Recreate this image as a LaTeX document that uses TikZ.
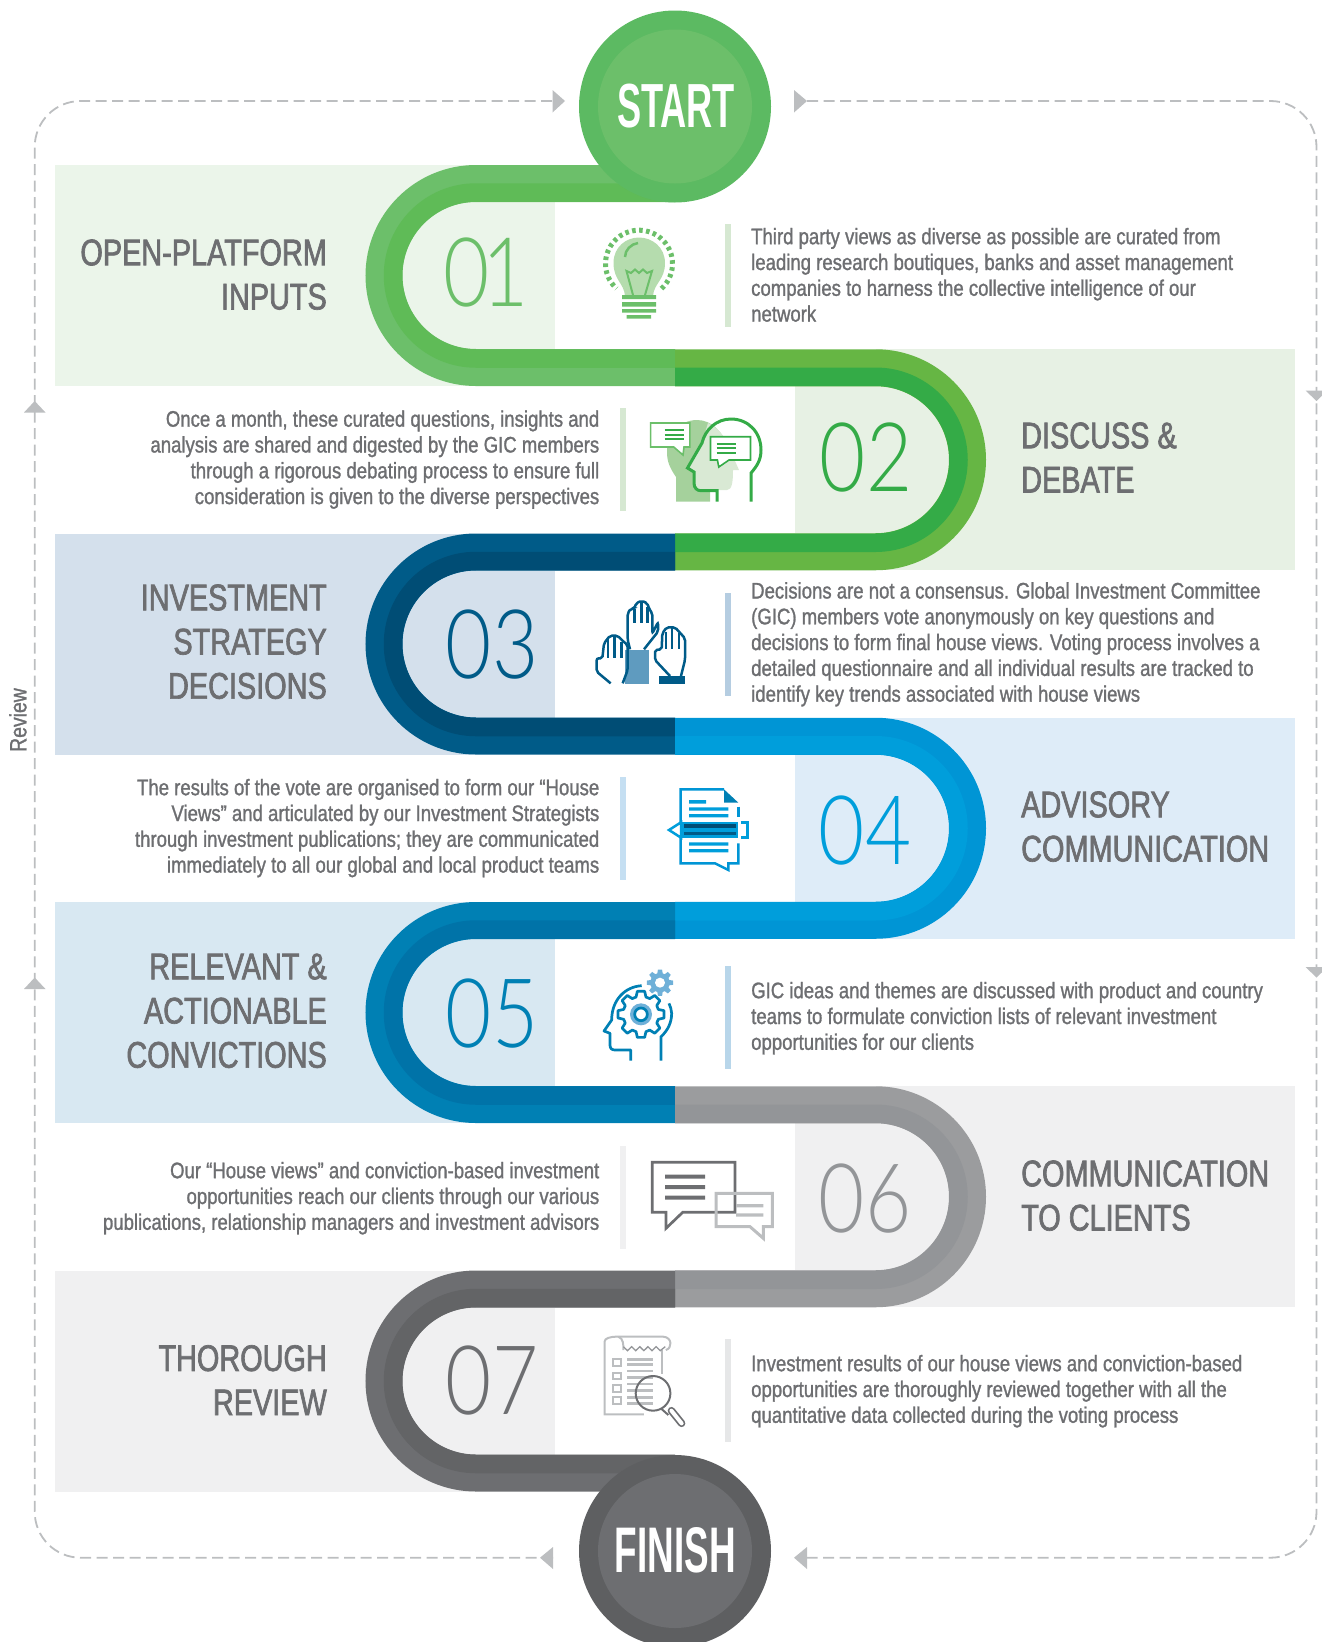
\documentclass[tikz,border=0pt]{standalone}
\usepackage{fontspec}
\usepackage{graphicx}
\setmainfont{Liberation Sans}
\newfontfamily\bodyf[FakeStretch=0.825,FakeBold=1.2]{Liberation Sans}
\newfontfamily\titlef[FakeStretch=0.78,FakeBold=1.8]{Liberation Sans}
\newfontfamily\thinf[FakeStretch=0.83]{Lato Light}
\newfontfamily\capf{Liberation Sans Bold}
\definecolor{txt}{HTML}{6D6E71}
\definecolor{dashc}{HTML}{BCBEC0}
\definecolor{gA}{HTML}{6CBF6A}\definecolor{gB}{HTML}{5FBB57}
\definecolor{gC}{HTML}{66B644}\definecolor{gD}{HTML}{34AB47}
\definecolor{bA}{HTML}{005B88}\definecolor{bB}{HTML}{004D75}
\definecolor{bC}{HTML}{0095D5}\definecolor{bD}{HTML}{009EDB}
\definecolor{bE}{HTML}{0080B4}\definecolor{bF}{HTML}{0073A8}
\definecolor{kA}{HTML}{9B9C9E}\definecolor{kB}{HTML}{939598}
\definecolor{kC}{HTML}{6D6E71}\definecolor{kD}{HTML}{636466}
\definecolor{pA}{HTML}{EBF5EA}\definecolor{pB}{HTML}{E7F1E4}\definecolor{pC}{HTML}{D4E0EC}
\definecolor{pD}{HTML}{DEECF8}\definecolor{pE}{HTML}{D8E8F2}\definecolor{pF}{HTML}{F0F0F1}
\definecolor{startC}{HTML}{5CBA62}\definecolor{finC}{HTML}{5E5F61}
\definecolor{barA}{HTML}{D6E8D2}\definecolor{barC}{HTML}{B5CDE1}\definecolor{barD}{HTML}{C5DFF2}
\definecolor{barE}{HTML}{B8D6EA}\definecolor{barG}{HTML}{E6E7E8}
\definecolor{bulbF}{HTML}{B5DCAE}\definecolor{headA}{HTML}{A5D19C}\definecolor{headB}{HTML}{D9E9D4}
\definecolor{sleeve}{HTML}{5F9BBF}\definecolor{gearL}{HTML}{6FB0D8}
\tikzset{
  bodyL/.style={inner sep=0pt,anchor=north west,align=left,text=txt,font=\bodyf\fontsize{22.5}{25.8}\selectfont},
  bodyR/.style={inner sep=0pt,anchor=north east,align=right,text=txt,font=\bodyf\fontsize{22.5}{25.8}\selectfont},
  titleL/.style={inner sep=0pt,anchor=north west,align=left,text=txt,font=\titlef\fontsize{37}{44.2}\selectfont},
  titleR/.style={inner sep=0pt,anchor=north east,align=right,text=txt,font=\titlef\fontsize{37}{44.2}\selectfont},
  numb/.style={inner sep=0pt,anchor=base,font=\thinf\fontsize{96}{96}\selectfont},
  dashline/.style={draw=dashc,line width=1.8pt,dash pattern=on 11pt off 5.5pt,rounded corners=46pt},
  tri/.style={fill=dashc,draw=none},
}
% #1 yc, #2 radius
\newcommand{\ribL}[2]{(675,#1-#2) -- (476,#1-#2) .. controls ({476-0.5523*#2},#1-#2) and ({476-#2},{#1-0.5523*#2}) .. ({476-#2},#1) .. controls ({476-#2},{#1+0.5523*#2}) and ({476-0.5523*#2},#1+#2) .. (476,#1+#2) -- (675,#1+#2)}
\newcommand{\ribR}[2]{(675,#1-#2) -- (875.5,#1-#2) .. controls ({875.5+0.5523*#2},#1-#2) and ({875.5+#2},{#1-0.5523*#2}) .. ({875.5+#2},#1) .. controls ({875.5+#2},{#1+0.5523*#2}) and ({875.5+0.5523*#2},#1+#2) .. (875.5,#1+#2) -- (675,#1+#2)}
% #1 yc, #2 panel colour, #3 outer, #4 inner
\newcommand{\rowL}[4]{%
  \fill[#2] (54.6,#1-110.5) rectangle (476,#1+110.5);
  \fill[#2] (476,#1-73.5) rectangle (555,#1+73.5);
  \draw[#3,line width=37pt] \ribL{#1}{92};
  \draw[#4,line width=18.5pt] \ribL{#1}{83};
}
\newcommand{\rowR}[4]{%
  \fill[#2] (875.5,#1-110.5) rectangle (1295,#1+110.5);
  \fill[#2] (795,#1-73.5) rectangle (875.5,#1+73.5);
  \draw[#3,line width=37pt] \ribR{#1}{92};
  \draw[#4,line width=18.5pt] \ribR{#1}{83};
}
\newcommand{\gearpath}[5]{({#1+#4*cos(-16)},{#2+#4*sin(-16)}) \foreach \k in {0,...,#5}{ -- ({#1+#3*cos(\k*360/(#5+1)-9)},{#2+#3*sin(\k*360/(#5+1)-9)}) -- ({#1+#3*cos(\k*360/(#5+1)+9)},{#2+#3*sin(\k*360/(#5+1)+9)}) -- ({#1+#4*cos(\k*360/(#5+1)+16)},{#2+#4*sin(\k*360/(#5+1)+16)}) -- ({#1+#4*cos((\k+1)*360/(#5+1)-16)},{#2+#4*sin((\k+1)*360/(#5+1)-16)})} -- cycle}
\begin{document}
\begin{tikzpicture}[x=1pt,y=-1pt]
\useasboundingbox (0,0) rectangle (1322,1642);
% dashed frame
\coordinate (dA) at (553,1557.7);
\coordinate (dB) at (34.7,1557.7);
\coordinate (dC) at (34.7,101);
\coordinate (dD) at (552.5,101);
\coordinate (dE) at (807,101);
\coordinate (dF) at (1316.5,101);
\coordinate (dG) at (1316.5,1557.7);
\coordinate (dH) at (806,1557.7);
\draw[dashline] (dA) -- (dB) -- (dC) -- (dD);
\draw[dashline] (dE) -- (dF) -- (dG) -- (dH);
\fill[tri] (552.5,90) -- (565,101) -- (552.5,112.5) -- cycle;
\fill[tri] (794,90) -- (807,101) -- (794,112.5) -- cycle;
\fill[tri] (553,1547) -- (540,1557.7) -- (553,1569) -- cycle;
\fill[tri] (807,1547) -- (794,1557.7) -- (807,1569) -- cycle;
\fill[tri] (24,412.5) -- (34.7,401) -- (45.5,412.5) -- cycle;
\fill[tri] (24,989) -- (34.7,977.5) -- (45.5,989) -- cycle;
\fill[tri] (1305.5,390.5) -- (1316.5,401) -- (1327.5,390.5) -- cycle;
\fill[tri] (1305.5,967) -- (1316.5,977.5) -- (1327.5,967) -- cycle;
\node[inner sep=0pt,rotate=90,text=txt,font=\bodyf\fontsize{23.5}{26}\selectfont] (review) at (18,720) {Review};
% rows
\rowL{275.5}{pA}{gA}{gB}
\rowR{459.75}{pB}{gC}{gD}
\rowL{644}{pC}{bA}{bB}
\rowR{828.25}{pD}{bC}{bD}
\rowL{1012.5}{pE}{bE}{bF}
\rowR{1196.75}{pF}{kA}{kB}
\rowL{1381}{pF}{kC}{kD}
% start / finish
\fill[startC] (675,106.5) circle (96);
\fill[gA] (675,106.5) circle (77);
\node[inner sep=0pt,text=white] (start) at (676,105.7) {\resizebox{118pt}{43.5pt}{\capf START}};
\fill[finC] (675,1551) circle (96);
\fill[kC] (675,1551) circle (77);
\node[inner sep=0pt,text=white] (finish) at (675.5,1550.5) {\resizebox{121pt}{45pt}{\capf FINISH}};
% bars
\fill[barA] (725,224) rectangle (731,327);
\fill[barA] (620,408) rectangle (626,511);
\fill[barC] (725,593) rectangle (731,696);
\fill[barD] (620,777) rectangle (626,880);
\fill[barE] (725,966) rectangle (731,1069);
\fill[pF] (620,1146) rectangle (626,1249);
\fill[barG] (725,1339) rectangle (731,1442);
% numbers
\node[numb,text=gA] (n1) at (486,306) {0\kern-8pt 1};
\node[numb,text=gD] (n2) at (866,491) {02};
\node[numb,text=bA] (n3) at (492,678.5) {03};
\node[numb,text=bD] (n4) at (865,864.5) {04};
\node[numb,text=bE] (n5) at (492,1047.5) {05};
\node[numb,text=kB] (n6) at (865,1232) {06};
\node[numb,text=kC] (n7) at (492,1414) {07};
% titles
\node[titleR] (t1) at (327,265-30.9) {\strut OPEN-PLATFORM\\INPUTS};
\node[titleL] (t2) at (1021,448-30.9) {\strut DISCUSS \&\\DEBATE};
\node[titleR] (t3) at (327,610-30.9) {\strut INVESTMENT\\STRATEGY\\DECISIONS};
\node[titleL] (t4) at (1021,817-30.9) {\strut ADVISORY\\COMMUNICATION};
\node[titleR] (t5) at (327,979-30.9) {\strut RELEVANT \&\\ACTIONABLE\\CONVICTIONS};
\node[titleL] (t6) at (1021,1186-30.9) {\strut COMMUNICATION\\TO CLIENTS};
\node[titleR] (t7) at (327,1370.7-30.9) {\strut THOROUGH\\REVIEW};
% body
\node[bodyL] (b1) at (751,244-18.06) {\strut Third party views as diverse as possible are curated from\\leading research boutiques, banks and asset management\\companies to harness the collective intelligence of our\\network};
\node[bodyR] (b2) at (599.5,426.5-18.06) {\strut Once a month, these curated questions, insights and\\analysis are shared and digested by the GIC members\\through a rigorous debating process to ensure full\\consideration is given to the diverse perspectives};
\node[bodyL] (b3) at (751,598.3-18.06) {\strut Decisions are not a consensus. Global Investment Committee\\(GIC) members vote anonymously on key questions and\\decisions to form final house views. Voting process involves a\\detailed questionnaire and all individual results are tracked to\\identify key trends associated with house views};
\node[bodyR] (b4) at (599.5,795-18.06) {\strut The results of the vote are organised to form our “House\\Views” and articulated by our Investment Strategists\\through investment publications; they are communicated\\immediately to all our global and local product teams};
\node[bodyL] (b5) at (751,998-18.06) {\strut GIC ideas and themes are discussed with product and country\\teams to formulate conviction lists of relevant investment\\opportunities for our clients};
\node[bodyR] (b6) at (599.5,1178-18.06) {\strut Our “House views” and conviction-based investment\\opportunities reach our clients through our various\\publications, relationship managers and investment advisors};
\node[bodyL] (b7) at (751,1371-18.06) {\strut Investment results of our house views and conviction-based\\opportunities are thoroughly reviewed together with all the\\quantitative data collected during the voting process};
% ---- icon 1 bulb
\draw[gA,line width=5pt,dash pattern=on 3.6pt off 3.4pt] plot[domain=-48:228,samples=60] ({639+33.5*cos(\x)},{263.7-33.5*sin(\x)});
\fill[bulbF] (625,296) .. controls (624,283) and (613.5,280) .. (613.5,263) .. controls (613.5,247) and (626,237.5) .. (639,237.5) .. controls (652,237.5) and (665,247) .. (665,263) .. controls (665,280) and (654,283) .. (653,296) -- cycle;
\draw[gA,line width=2.5pt] (625,257) .. controls (625,250) and (631,244) .. (638,243);
\draw[gA,line width=2pt] (633,295) -- (626.5,271) -- (631,273) -- (635,269.5) -- (639,273) -- (643,269.5) -- (647,273) -- (652,271) -- (645,295);
\fill[gA] (622,295) rectangle (656,299) (622,302) rectangle (656,306.5) (622,309) rectangle (656,312.5) (626.5,315) rectangle (651,318.5);
% ---- icon 2 heads
\fill[headA] (676,501.7) -- (676,477) .. controls (670,468) and (667,462) .. (667,452) .. controls (667,434) and (680,420) .. (697,420) .. controls (712,420) and (722,432) .. (727,445) -- (702,490) -- (710,490) -- (710,501.7) -- cycle;
\fill[headB] (694,472) -- (694,483) -- (699,490) -- (727,490) .. controls (732,490) and (733,482) .. (733,470) -- (739,470) -- (727,443) .. controls (722,432) and (716,427) .. (708,423) -- (702,443) -- (687.5,468) -- cycle;
\draw[gD,line width=3pt] (751,501.7) -- (751,473) .. controls (757,466) and (761,460) .. (761,450) .. controls (761,432) and (748,419) .. (731,419) .. controls (716,419) and (705,430) .. (702,443) -- (687.5,468) -- (694,472) -- (694,483) .. controls (694,488) and (697,490.7) .. (701,490.7) -- (717,490.7) -- (717,501.7);
\draw[gA,line width=1.6pt,fill=white] (650.6,423) -- (689.8,423) -- (689.8,447) -- (684,447) -- (683,455) -- (673.7,447) -- (650.6,447) -- cycle;
\draw[gD,line width=2pt] (664.5,430) -- (684,430) (664.5,435) -- (684,435) (664.5,439.3) -- (684,439.3);
\draw[gD,line width=1.6pt,fill=white] (710.5,436.7) -- (750.5,436.7) -- (750.5,460) -- (729,460) -- (718.8,467) -- (717.4,460) -- (710.5,460) -- cycle;
\draw[gD,line width=2pt] (716.5,444) -- (736,444) (716.5,448.3) -- (736,448.3) (716.5,452.7) -- (736,452.7);
% ---- icon 3 hands, icon 4 document (zoom coordinates)
\begin{scope}[shift={(580,580)},x=0.33333pt,y=-0.33333pt]
 \fill[sleeve] (135,210) rectangle (207,311);
 \begin{scope}[draw=bA,line width=2.5pt,rounded corners=2pt]
 \draw (150,208) -- (143,180) -- (143,100) -- (152,86) -- (163,86) -- (168,70) -- (185,62) -- (202,70) -- (208,88) -- (217,100) -- (217,160) -- (234,127) -- (234,155) -- (192,208);
 \draw (163,86) -- (163,130) (185,62) -- (185,130) (203,80) -- (203,130);
 \draw (128,310) -- (143,270) -- (143,195) -- (125,180) -- (113,167) -- (90,167) -- (72,190) -- (67,235) -- (50,235) -- (50,275) -- (92,310);
 \draw (84,178) -- (84,235) (103,167) -- (103,235) (124,185) -- (124,235);
 \draw (303,288) -- (315,240) -- (315,175) -- (297,155) -- (285,142) -- (260,142) -- (247,160) -- (245,208) -- (225,210) -- (225,240) -- (270,288);
 \draw (258,155) -- (258,208) (276,142) -- (276,208) (297,160) -- (297,208);
 \end{scope}
 \fill[bA] (237,288) rectangle (315,311);
 % document
 \draw[bC,line width=2.5pt] (432,628) -- (302,628) -- (302,850) -- (405,850) -- (445,870) -- (445,850) -- (475,850) -- (475,790);
 \draw[bC,line width=2.5pt] (475,680) -- (475,712);
 \fill[bE] (432,628) -- (475,668) -- (432,668) -- cycle;
 \fill[bD] (327,660) rectangle (378,671) (327,682) rectangle (445,692) (327,702) rectangle (445,712) (327,787) rectangle (445,797) (327,807) rectangle (445,817);
 \fill[bD] (303,725) rectangle (475,775);
 \draw[bD,line width=2.5pt,fill=white] (303,727) -- (267,750) -- (303,773) -- cycle;
 \fill[bB] (312,733) rectangle (468,744);
 \fill[bA] (312,755) rectangle (468,766);
 \draw[bD,line width=2.5pt] (483,727) -- (503,727) -- (503,772) -- (483,772);
\end{scope}
% ---- icon 5 gear head, icon 6 chats
\begin{scope}[shift={(590,950)},x=0.33333pt,y=-0.33333pt]
 \draw[bE,line width=2.7pt,line join=round] (155,107) .. controls (105,110) and (65,150) .. (65,210) -- (42,243) -- (60,250) -- (60,285) .. controls (60,295) and (65,300) .. (75,300) -- (122,300) -- (122,332);
 \draw[bE,line width=2.7pt] (213,332) -- (213,260) .. controls (235,240) and (245,215) .. (245,190) .. controls (245,180) and (241,170) .. (237,160);
 \draw[bE,line width=2.7pt,line join=round,fill=white] \gearpath{153}{193}{70}{54}{7};
 \fill[gearL] (153,193) circle (33);
 \draw[bE,line width=2.7pt,fill=white] (153,193) circle (19);
 \fill[gearL] \gearpath{210}{98}{40}{29}{7};
 \fill[white] (210,98) circle (15);
 % chats
 \draw[txt,line width=2.7pt,line join=miter] (187,637) -- (435,637) -- (435,787) -- (278,787) -- (228,835) -- (228,787) -- (187,787) -- cycle;
 \fill[txt] (225,674) rectangle (345,686) (225,705) rectangle (345,717) (225,737) rectangle (345,749);
 \draw[dashc,line width=3pt] (378,730) -- (547,730) -- (547,830) -- (520,830) -- (520,865) -- (480,830) -- (378,830) -- cycle;
 \fill[dashc] (438,762) rectangle (520,772) (438,790) rectangle (520,800);
\end{scope}
% ---- icon 7 review
\begin{scope}[shift={(0,1300)},x=0.5102pt,y=-0.33333pt]
 \draw[dashc,line width=2pt] (1262,343) -- (1185,343) -- (1185,125) .. controls (1185,115) and (1195,110) .. (1210,110) -- (1300,110) .. controls (1318,112) and (1318,145) .. (1305,150);
 \draw[dashc,line width=2pt] (1297,150) -- (1297,222);
 \draw[dashc,line width=2pt] (1212,110) .. controls (1222,115) and (1222,135) .. (1222,150);
 \draw[kB,line width=1.3pt] (1222,140) -- (1230,152) -- (1238,140) -- (1246,152) -- (1254,140) -- (1262,152) -- (1270,140) -- (1278,152) -- (1286,140) -- (1294,152) -- (1304,140);
 \foreach \yy in {188,228,265,302} { \draw[dashc,line width=2pt] (1202,\yy-10) rectangle (1218,\yy+10); }
 \foreach \yy in {178,193,213,233,252,272,292,310} { \fill[dashc] (1228,\yy-4) rectangle (1280,\yy+4); }
 \draw[kC,line width=2pt] (1280,280) ellipse [x radius=34,y radius=52];
 \draw[kC,line width=2pt] (1296,326) -- (1310,345);
 \draw[kC,line width=7.5pt,line cap=round] (1316,332) -- (1336,370);
 \draw[white,line width=4pt,line cap=round] (1316,332) -- (1336,370);
\end{scope}
\end{tikzpicture}
\end{document}
